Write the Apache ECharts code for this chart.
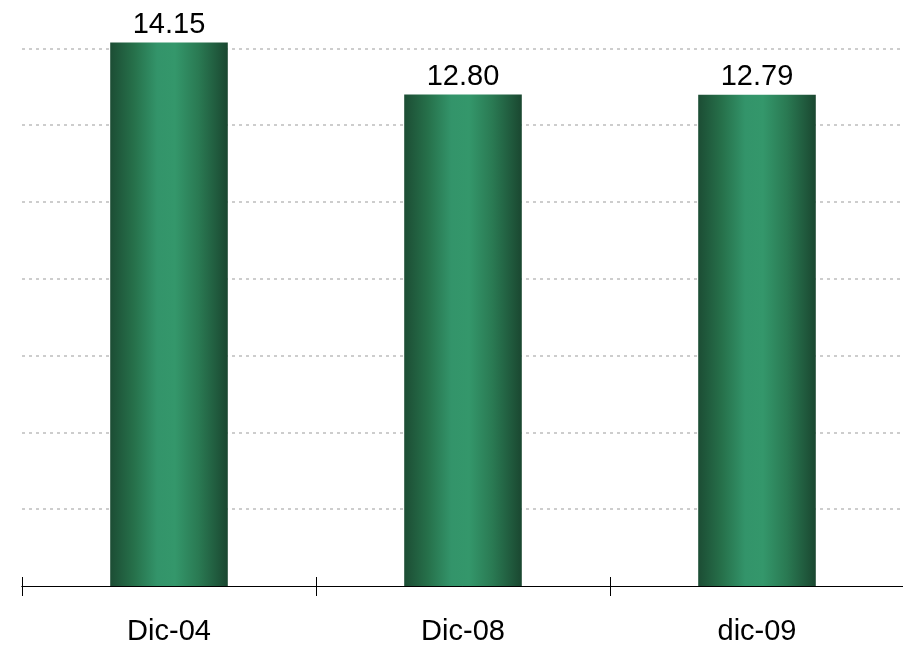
<!DOCTYPE html>
<html>
<head>
<meta charset="utf-8">
<script src="https://cdn.jsdelivr.net/npm/echarts@6/dist/echarts.min.js"></script>
<style>
html,body{margin:0;padding:0;background:#fff;}
#chart{width:903px;height:648px;}
</style>
</head>
<body>
<div id="chart"></div>
<script>
const categories = ['Dic-04', 'Dic-08', 'dic-09'];
const values = [14.15, 12.80, 12.79];

const chart = echarts.init(document.getElementById('chart'), null, {renderer: 'canvas'});
const FONT = 'Liberation Sans, Arial, sans-serif';
const barGradient = new echarts.graphic.LinearGradient(0, 0, 1, 0, [
  {offset: 0, color: '#1c4d34'},
  {offset: 0.2, color: '#26704a'},
  {offset: 0.4, color: '#33946a'},
  {offset: 0.55, color: '#34976b'},
  {offset: 0.75, color: '#2a7a53'},
  {offset: 1, color: '#1a4730'}
]);

chart.setOption({
  animation: false,
  backgroundColor: '#ffffff',
  grid: [
    {left: 22, right: -1, top: 0, bottom: 62, containLabel: false, outerBoundsMode: 'none'},
    {left: 22, right: -1, top: 0, bottom: 62, containLabel: false, outerBoundsMode: 'none'}
  ],
  xAxis: [{
    type: 'category',
    gridIndex: 0,
    data: categories,
    position: 'bottom',
    boundaryGap: true,
    axisLine: {show: true, lineStyle: {color: '#000', width: 1}},
    axisTick: {show: true, length: 9, inside: true, lineStyle: {color: '#000', width: 1}},
    axisLabel: {show: true, color: '#000', fontSize: 29, fontFamily: FONT, margin: 31},
    splitLine: {show: false}
  }, {
    type: 'category',
    gridIndex: 1,
    data: categories,
    position: 'bottom',
    boundaryGap: true,
    axisLine: {show: true, lineStyle: {color: '#000', width: 1}},
    axisTick: {show: true, length: 10, inside: false, lineStyle: {color: '#000', width: 1}},
    axisLabel: {show: false},
    splitLine: {show: false}
  }],
  yAxis: [{
    type: 'value',
    gridIndex: 0,
    min: 0,
    max: 15.258,
    interval: 2,
    axisLine: {show: false},
    axisTick: {show: false},
    axisLabel: {show: false},
    splitLine: {show: true, showMaxLine: false, showMinLine: false, lineStyle: {color: '#bdbdbd', width: 1.5, type: [3, 4]}}
  }, {
    type: 'value',
    gridIndex: 1,
    min: 0,
    max: 15.258,
    interval: 2,
    show: false
  }],
  series: [{
    type: 'bar',
    xAxisIndex: 0,
    yAxisIndex: 0,
    data: values,
    barWidth: '40%',
    itemStyle: {color: barGradient},
    label: {
      show: true,
      position: 'top',
      distance: 3,
      color: '#000',
      fontSize: 29,
      fontFamily: FONT,
      formatter: p => p.value.toFixed(2)
    }
  }]
});
</script>
</body>
</html>
